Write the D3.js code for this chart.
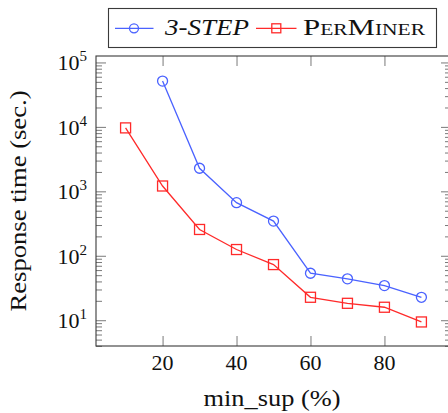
<!DOCTYPE html>
<html>
<head>
<meta charset="utf-8">
<script src="https://cdn.jsdelivr.net/npm/d3@7"></script>
<style>
  body { margin: 0; background: #fff; }
  svg { display: block; }
</style>
</head>
<body>
<svg id="chart" width="448" height="413"></svg>
<script>
// Response time (seconds) per minimum support threshold
const minSup        = [10, 20, 30, 40, 50, 60, 70, 80, 90];
const threeStepSup  = [20, 30, 40, 50, 60, 70, 80, 90];
const threeStepTime = [51400, 2280, 667, 345, 53.6, 43.9, 34.5, 22.7];
const perMinerTime  = [9650, 1210, 256, 125, 73, 22.7, 18.3, 15.9, 9.4];

const xTickValues = [20, 40, 60, 80];
const yTickExponents = [1, 2, 3, 4, 5];
const seriesNames = ["3-STEP", "PerMiner"];
const xTitle = "min_sup (%)";
const yTitle = "Response time (sec.)";

const serif = "'Liberation Serif', 'DejaVu Serif', serif";
const svg = d3.select("#chart");
const frame = { left: 96, right: 451, top: 56, bottom: 346 };

const x = d3.scaleLinear().domain([2, 98]).range([frame.left, frame.right]);
const y = d3.scaleLog().domain([Math.pow(10, 0.6), Math.pow(10, 5.1)]).range([frame.bottom, frame.top]);

const tickColor = "#6a6a6a";
const majorLen = 10, minorLen = 6;

// major and minor y tick values
const majorY = yTickExponents.map(e => Math.pow(10, e));
const minorY = [];
for (let e = 0; e <= 5; e++) {
  for (let m = 2; m <= 9; m++) {
    const v = m * Math.pow(10, e);
    if (v >= y.domain()[0] && v <= y.domain()[1]) minorY.push(v);
  }
}

function styleAxis(g) {
  g.select(".domain").remove();
  g.selectAll(".tick line").attr("stroke", tickColor).attr("stroke-width", 0.9);
  g.selectAll(".tick text").remove();
}

// x ticks, bottom and top, pointing inward
svg.append("g").attr("transform", `translate(0,${frame.bottom})`)
  .call(d3.axisBottom(x).tickValues(xTickValues).tickSizeInner(-majorLen).tickSizeOuter(0))
  .call(styleAxis);
svg.append("g").attr("transform", `translate(0,${frame.top})`)
  .call(d3.axisTop(x).tickValues(xTickValues).tickSizeInner(-majorLen).tickSizeOuter(0))
  .call(styleAxis);

// y ticks, left and right, pointing inward
svg.append("g").attr("transform", `translate(${frame.left},0)`)
  .call(d3.axisLeft(y).tickValues(majorY).tickSizeInner(-majorLen).tickSizeOuter(0))
  .call(styleAxis);
svg.append("g").attr("transform", `translate(${frame.left},0)`)
  .call(d3.axisLeft(y).tickValues(minorY).tickSizeInner(-minorLen).tickSizeOuter(0))
  .call(styleAxis);
svg.append("g").attr("transform", `translate(${frame.right},0)`)
  .call(d3.axisRight(y).tickValues(majorY).tickSizeInner(-majorLen).tickSizeOuter(0))
  .call(styleAxis);
svg.append("g").attr("transform", `translate(${frame.right},0)`)
  .call(d3.axisRight(y).tickValues(minorY).tickSizeInner(-minorLen).tickSizeOuter(0))
  .call(styleAxis);

// plot frame
svg.append("rect")
  .attr("x", frame.left).attr("y", frame.top)
  .attr("width", frame.right - frame.left).attr("height", frame.bottom - frame.top)
  .attr("fill", "none").attr("stroke", "#3a3a3a").attr("stroke-width", 1.1);

const txt = sel => sel.style("font-family", serif).attr("fill", "#111");

// x tick labels
svg.append("g").selectAll("text").data(xTickValues).join("text")
  .call(txt)
  .attr("x", d => x(d)).attr("y", 370)
  .attr("text-anchor", "middle").attr("font-size", 22)
  .text(d => d);

// y tick labels as powers of ten
const yLabels = svg.append("g").selectAll("text").data(yTickExponents).join("text")
  .call(txt)
  .attr("x", 87).attr("y", d => y(Math.pow(10, d)) + 8)
  .attr("text-anchor", "end").attr("font-size", 22);
yLabels.append("tspan").text("10");
yLabels.append("tspan").attr("dy", -9).attr("font-size", 15).text(d => d);

// axis titles
svg.append("text").call(txt)
  .attr("x", 272).attr("y", 406)
  .attr("text-anchor", "middle").attr("font-size", 23)
  .attr("textLength", 137).attr("lengthAdjust", "spacingAndGlyphs")
  .text(xTitle);
svg.append("text").call(txt)
  .attr("transform", "translate(26,201) rotate(-90)")
  .attr("text-anchor", "middle").attr("font-size", 23)
  .attr("textLength", 221).attr("lengthAdjust", "spacingAndGlyphs")
  .text(yTitle);

// series
const blue = "#4a62ff", red = "#ff2a2a";
const line = d3.line().x(d => x(d[0])).y(d => y(d[1]));
const threeStepPts = threeStepSup.map((s, i) => [s, threeStepTime[i]]);
const perMinerPts = minSup.map((s, i) => [s, perMinerTime[i]]);

const plot = svg.append("g");
plot.append("path").datum(threeStepPts).attr("d", line)
  .attr("fill", "none").attr("stroke", blue).attr("stroke-width", 1.3);
plot.append("path").datum(perMinerPts).attr("d", line)
  .attr("fill", "none").attr("stroke", red).attr("stroke-width", 1.3);

plot.selectAll("circle.m").data(threeStepPts).join("circle").attr("class", "m")
  .attr("cx", d => x(d[0])).attr("cy", d => y(d[1])).attr("r", 5)
  .attr("fill", "none").attr("stroke", blue).attr("stroke-width", 1.3);
const sq = 10;
plot.selectAll("rect.m").data(perMinerPts).join("rect").attr("class", "m")
  .attr("x", d => x(d[0]) - sq / 2).attr("y", d => y(d[1]) - sq / 2)
  .attr("width", sq).attr("height", sq)
  .attr("fill", "none").attr("stroke", red).attr("stroke-width", 1.3);

// legend
const lg = svg.append("g");
lg.append("rect").attr("x", 108.5).attr("y", 8.5).attr("width", 328).attr("height", 39)
  .attr("fill", "#fff").attr("stroke", "#3a3a3a").attr("stroke-width", 1.1);
const ly = 28.3;
lg.append("line").attr("x1", 115).attr("x2", 153.5).attr("y1", ly).attr("y2", ly)
  .attr("stroke", blue).attr("stroke-width", 1.3);
lg.append("circle").attr("cx", 134).attr("cy", ly).attr("r", 4.5)
  .attr("fill", "none").attr("stroke", blue).attr("stroke-width", 1.3);
lg.append("text").call(txt).attr("x", 165).attr("y", 35).attr("font-size", 23)
  .attr("font-style", "italic")
  .attr("textLength", 84).attr("lengthAdjust", "spacingAndGlyphs")
  .text(seriesNames[0]);
lg.append("line").attr("x1", 256).attr("x2", 296.5).attr("y1", ly).attr("y2", ly)
  .attr("stroke", red).attr("stroke-width", 1.3);
lg.append("rect").attr("x", 276.3 - 4.5).attr("y", ly - 4.5).attr("width", 9).attr("height", 9)
  .attr("fill", "none").attr("stroke", red).attr("stroke-width", 1.3);
lg.append("text").call(txt).attr("x", 303).attr("y", 35).attr("font-size", 23)
  .attr("font-variant", "small-caps")
  .attr("textLength", 122).attr("lengthAdjust", "spacingAndGlyphs")
  .text(seriesNames[1]);
</script>
</body>
</html>
